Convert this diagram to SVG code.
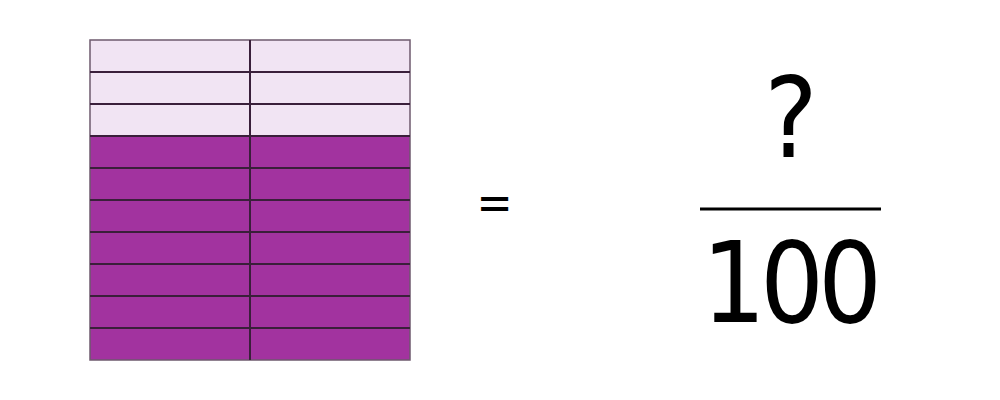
<svg xmlns="http://www.w3.org/2000/svg" width="1000" height="400" viewBox="0 0 1000 400">
<style>
.light{fill:#f1e4f3}
.dark{fill:#a2339f}
.grid{stroke:#3a1f3a;stroke-width:2;fill:none}
.t{font-family:"DejaVu Sans Condensed","DejaVu Sans",sans-serif;fill:#000}
</style>
<rect width="1000" height="400" fill="#fff"/>
<g id="grid">
<rect class="light" x="90" y="40" width="320" height="96"/>
<rect class="dark" x="90" y="136" width="320" height="224"/>
<g class="grid">
<rect x="90" y="40" width="320" height="320" stroke="#6e5a6e" stroke-width="1.5"/>
<line x1="250" y1="40" x2="250" y2="360"/>
<line x1="90" y1="72" x2="410" y2="72"/>
<line x1="90" y1="104" x2="410" y2="104"/>
<line x1="90" y1="136" x2="410" y2="136"/>
<line x1="90" y1="168" x2="410" y2="168"/>
<line x1="90" y1="200" x2="410" y2="200"/>
<line x1="90" y1="232" x2="410" y2="232"/>
<line x1="90" y1="264" x2="410" y2="264"/>
<line x1="90" y1="296" x2="410" y2="296"/>
<line x1="90" y1="328" x2="410" y2="328"/>
</g>
</g>
<g id="equals">
<text class="t" x="494.5" y="219" font-size="48" text-anchor="middle">=</text>
</g>
<g id="fraction">
<text class="t" x="791" y="157" font-size="112" text-anchor="middle">?</text>
<line x1="700" y1="209" x2="881" y2="209" stroke="#000" stroke-width="3"/>
<text class="t" x="789" y="322" font-size="112" text-anchor="middle" letter-spacing="-6">100</text>
</g>
</svg>
